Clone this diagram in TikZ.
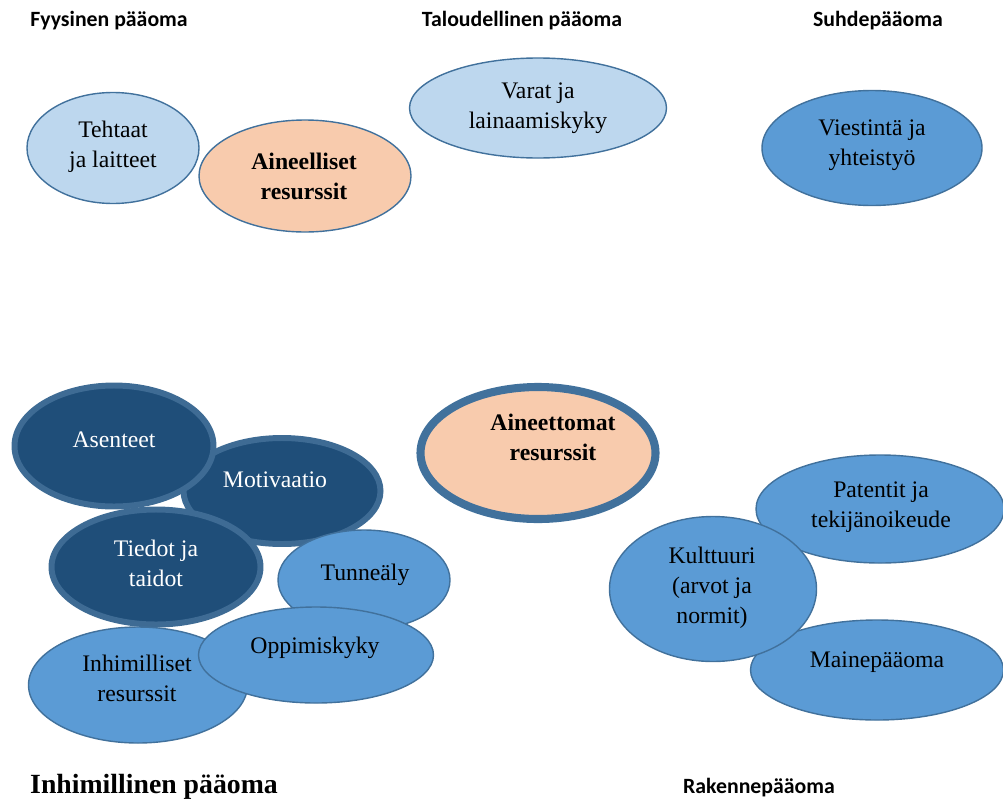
\documentclass[tikz,border=0pt]{standalone}
\usepackage{fontspec}
\setmainfont{Liberation Serif}
\newfontfamily\hdrfont{Carlito}
\usetikzlibrary{shapes.geometric}

\definecolor{lightfill}{HTML}{BDD7EE}
\definecolor{midfill}{HTML}{5B9BD5}
\definecolor{darkfill}{HTML}{1F4E79}
\definecolor{peach}{HTML}{F8CBAD}
\definecolor{rim}{HTML}{41719C}

\tikzset{
  % outer size of an ellipse in drawing units (1 unit = 0.02cm)
  esize/.style 2 args={minimum width=#1*0.02cm, minimum height=#2*0.02cm},
  blob/.style={ellipse, inner sep=0pt, draw=rim, line width=0.8pt},
  light/.style={blob, fill=lightfill},
  mid/.style={blob, fill=midfill},
  % thick-rimmed dark ellipses: the rim is 6 units wide
  dark/.style={blob, fill=darkfill, draw=rim!95!black, line width=3.4pt},
  solid peach/.style={blob, fill=peach},
  core/.style={blob, fill=peach, line width=4.6pt},
  txt/.style={align=center, font=\fontsize{13.5}{17}\selectfont, inner sep=0pt},
  txtb/.style={txt, font=\fontsize{13.5}{17}\selectfont\bfseries},
  wtxt/.style={txt, text=white},
  hdr/.style={anchor=base, inner sep=0pt, font=\hdrfont\fontsize{12.4}{14}\selectfont\bfseries},
}

\begin{document}
\begin{tikzpicture}[x=0.02cm, y=-0.02cm]
\useasboundingbox (0,0) rectangle (1003,801);

% ---- tangible resources ----
\node[light, esize={172}{111}] (tehtaat) at (113,148) {};
\node[solid peach, esize={212}{112}] (aineelliset) at (305,176) {};
\node[light, esize={257}{100}] (varat) at (538,108) {};
\node[mid, esize={220}{115}] (viestinta) at (872,148) {};

\node[txt]  (tehtaat-t) at (113,147) {Tehtaat\\ja laitteet};
\node[txtb] (aineelliset-t) at (304,176) {Aineelliset\\resurssit};
\node[txt]  (varat-t) at (538,108) {Varat ja\\lainaamiskyky};
\node[txt]  (viestinta-t) at (872,145) {Viestintä ja\\yhteistyö};

% ---- human capital cluster ----
\node[dark, esize={197}{106}] (motivaatio) at (282,491) {};
\node[dark, esize={199}{121}] (asenteet) at (114,446) {};
\node[dark, esize={209}{115}] (tiedot) at (156,567) {};
\node[mid, esize={172}{100}] (tunnealy) at (364,580) {};
\node[mid, esize={219}{116}] (inhimilliset) at (138,685) {};
\node[mid, esize={235}{96}] (oppimiskyky) at (316,655) {};

\node[wtxt] (asenteet-t) at (114,440) {Asenteet};
\node[wtxt] (motivaatio-t) at (275,480) {Motivaatio};
\node[wtxt] (tiedot-t) at (156,563) {Tiedot ja\\taidot};
\node[txt]  (tunnealy-t) at (365,575) {Tunneäly};
\node[txt]  (oppimiskyky-t) at (315,648) {Oppimiskyky};
\node[txt]  (inhimilliset-t) at (137,678) {Inhimilliset\\resurssit};

% ---- intangible resources ----
\node[core, esize={235}{132}] (aineettomat) at (538,453) {};
\node[txtb] (aineettomat-t) at (553,437) {Aineettomat\\resurssit};

% ---- structural capital cluster ----
\node[mid, esize={248}{108}] (patentit) at (880,509) {};
\node[mid, esize={253}{100}] (maine) at (877,670) {};
\node[mid, esize={207}{145}] (kulttuuri) at (713,589) {};

\node[txt] (patentit-t) at (881,507) {Patentit ja\\tekijänoikeude};
\node[txt] (maine-t) at (877,662) {Mainepääoma};
\node[txt] (kulttuuri-t) at (712,588) {Kulttuuri\\(arvot ja\\normit)};

% ---- capital headings ----
\node[hdr] (fyysinen) at (109,27) {Fyysinen pääoma};
\node[hdr] (taloudellinen) at (522,27) {Taloudellinen pääoma};
\node[hdr] (suhde) at (878,27) {Suhdepääoma};
\node[hdr] (rakenne) at (759,793) {Rakennepääoma};
\node[anchor=base, inner sep=0pt, font=\fontsize{15.8}{18}\selectfont\bfseries] (inhimillinen) at (154,793) {Inhimillinen pääoma};
\end{tikzpicture}
\end{document}
